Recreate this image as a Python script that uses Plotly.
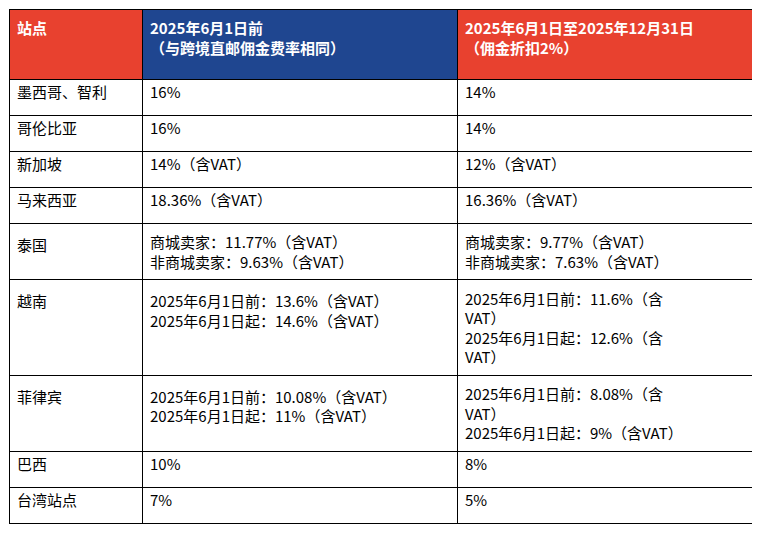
import plotly.graph_objects as go

header = ["站点", "2025年6月1日前<br>（与跨境直邮佣金费率相同）", "2025年6月1日至2025年12月31日<br>（佣金折扣2%）"]

sites = ["墨西哥、智利", "哥伦比亚", "新加坡", "马来西亚", "<br>泰国", "<br>越南", "<br>菲律宾", "巴西", "台湾站点"]
before = [
    "16%", "16%", "14%（含VAT）", "18.36%（含VAT）",
    "商城卖家：11.77%（含VAT）<br>非商城卖家：9.63%（含VAT）",
    "<br>2025年6月1日前：13.6%（含VAT）<br>2025年6月1日起：14.6%（含VAT）",
    "<br>2025年6月1日前：10.08%（含VAT）<br>2025年6月1日起：11%（含VAT）",
    "10%", "7%",
]
after = [
    "14%", "14%", "12%（含VAT）", "16.36%（含VAT）",
    "商城卖家：9.77%（含VAT）<br>非商城卖家：7.63%（含VAT）",
    "2025年6月1日前：11.6%（含<br>VAT）<br>2025年6月1日起：12.6%（含<br>VAT）",
    "2025年6月1日前：8.08%（含<br>VAT）<br>2025年6月1日起：9%（含VAT）",
    "8%", "5%",
]

red = "#E8412F"
blue = "#1F4690"
font = "Noto Sans CJK SC"

fig = go.Figure(go.Table(
    columnwidth=[133, 315, 307],
    header=dict(
        values=["<b>" + h + "</b>" for h in header],
        fill_color=[red, blue, red],
        line_color="#000000",
        font=dict(family=font, size=15, color="white"),
        align="left", height=70,
    ),
    cells=dict(
        values=[sites, before, after],
        fill_color="white",
        line_color="#000000",
        font=dict(family=font, size=15, color="#000000"),
        align="left", height=36,
    ),
))
fig.update_layout(width=760, height=541, margin=dict(l=1, r=4, t=1, b=2),
                  paper_bgcolor="white")
fig.write_html("out.html")
